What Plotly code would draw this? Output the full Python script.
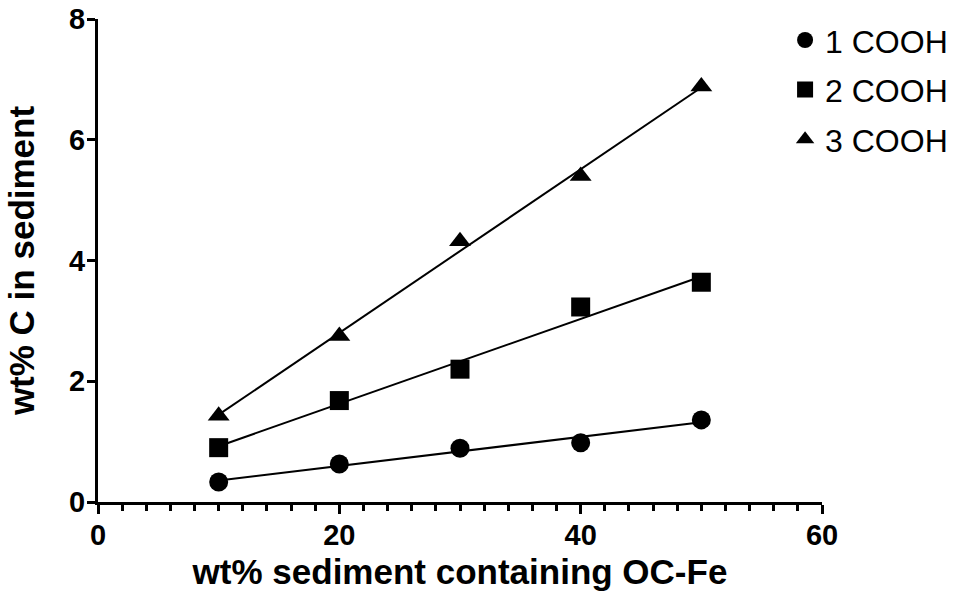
import numpy as np
import plotly.graph_objects as go

x_vals = [10, 20, 30, 40, 50]
y_1cooh = [0.33, 0.63, 0.89, 0.98, 1.36]
y_2cooh = [0.90, 1.68, 2.20, 3.23, 3.64]
y_3cooh = [1.43, 2.75, 4.32, 5.40, 6.88]
series_names = ["1 COOH", "2 COOH", "3 COOH"]
symbols = ["circle", "square", "triangle-up"]
sizes = [19, 19, 19]

x_ticks = [0, 20, 40, 60]
y_ticks = [0, 2, 4, 6, 8]

FONT = "Liberation Sans, Arial, Helvetica, sans-serif"

fig = go.Figure()
all_y = [y_1cooh, y_2cooh, y_3cooh]

# regression lines
for ys in all_y:
    slope, intercept = np.polyfit(x_vals, ys, 1)
    xl = [min(x_vals), max(x_vals)]
    yl = [slope * v + intercept for v in xl]
    fig.add_trace(go.Scatter(x=xl, y=yl, mode="lines",
                             line=dict(color="black", width=2),
                             showlegend=False, hoverinfo="skip"))

for i, (name, ys) in enumerate(zip(series_names, all_y)):
    fig.add_trace(go.Scatter(x=x_vals, y=ys, mode="markers", name=name,
                             legendgroup=name,
                             marker=dict(symbol=symbols[i], size=sizes[i],
                                         color="black", line=dict(width=0))))

fig.update_layout(
    width=958, height=593,
    margin=dict(l=98, r=136, t=19, b=91, autoexpand=False),
    plot_bgcolor="white", paper_bgcolor="white",
    font=dict(family=FONT, color="black"),
    legend=dict(x=0.949, xanchor="left", y=1.013, yanchor="top",
                xref="paper", yref="paper",
                font=dict(size=32, family=FONT, color="black"),
                tracegroupgap=5, itemwidth=30,
                bgcolor="rgba(0,0,0,0)"),
    showlegend=True,
)

fig.update_xaxes(
    range=[0, 60], tickvals=x_ticks, ticktext=[str(v) for v in x_ticks],
    showline=True, linecolor="black", linewidth=3,
    ticks="outside", ticklen=9, tickwidth=2.5, tickcolor="black",
    minor=dict(dtick=2, ticks="outside", ticklen=6, tickwidth=2.5, tickcolor="black"),
    showgrid=False, zeroline=False, automargin=False,
    ticklabelstandoff=-4,
    tickfont=dict(size=29, family=FONT, weight="bold"),
    title=dict(text="<b>wt% sediment containing OC-Fe</b>",
               font=dict(size=35, family=FONT), standoff=10),
)
fig.update_yaxes(
    range=[0, 8], tickvals=y_ticks, ticktext=[str(v) for v in y_ticks],
    showline=True, linecolor="black", linewidth=3,
    ticks="outside", ticklen=8, tickwidth=2.5, tickcolor="black",
    showgrid=False, zeroline=False, automargin=False,
    ticklabelstandoff=-4,
    tickfont=dict(size=29, family=FONT, weight="bold"),
    title=dict(text="<b>wt% C in sediment</b>",
               font=dict(size=35, family=FONT), standoff=24),
)

fig.write_html("out.html")
